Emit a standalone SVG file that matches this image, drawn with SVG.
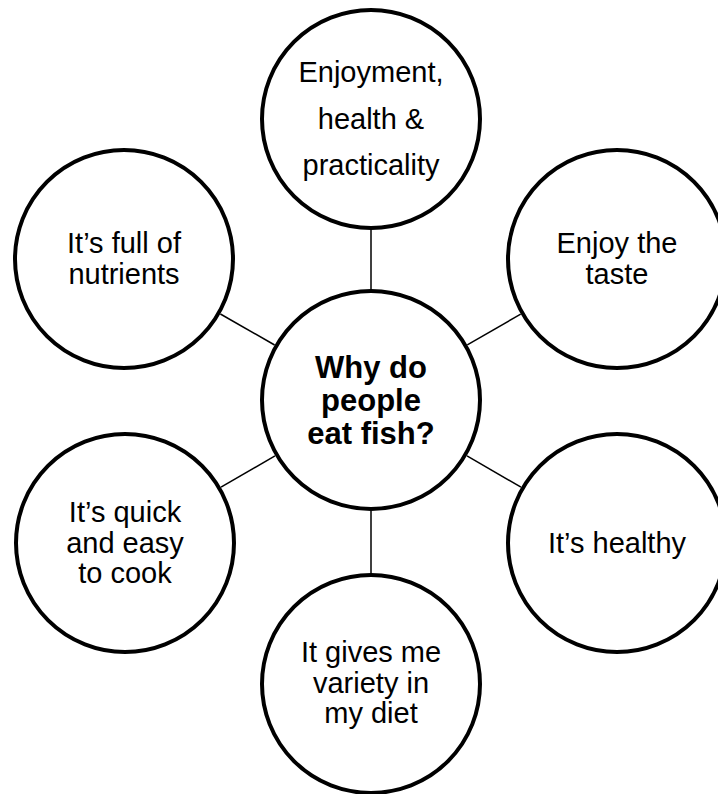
<svg xmlns="http://www.w3.org/2000/svg" width="718" height="794" viewBox="0 0 718 794">
<style>
.c{fill:#fff;stroke:#000;stroke-width:4}
.t{font-family:"Liberation Sans",Arial,sans-serif;font-size:29px;fill:#000;text-anchor:middle}
.b{font-family:"Liberation Sans",Arial,sans-serif;font-size:31px;font-weight:bold;fill:#000;text-anchor:middle}
.l{stroke:#000;stroke-width:1.5;fill:none}
</style>
<rect width="718" height="794" fill="#fff"/>
<g id="connectors">
<line class="l" x1="371" y1="230" x2="371" y2="289"/>
<line class="l" x1="371" y1="511" x2="371" y2="573"/>
<line class="l" x1="220.4" y1="314" x2="274.6" y2="345"/>
<line class="l" x1="520.7" y1="314.2" x2="467.3" y2="344.8"/>
<line class="l" x1="221" y1="487.2" x2="275" y2="455.8"/>
<line class="l" x1="521" y1="487.2" x2="467" y2="455.8"/>
</g>
<g id="center">
<circle class="c" cx="371" cy="400" r="109"/>
<text class="b" x="371" y="378">Why do</text>
<text class="b" x="371" y="411">people</text>
<text class="b" x="371" y="444">eat fish?</text>
</g>
<g id="top">
<circle class="c" cx="371" cy="119" r="109"/>
<text class="t" x="371" y="82">Enjoyment,</text>
<text class="t" x="371" y="128.5">health &amp;</text>
<text class="t" x="371" y="175">practicality</text>
</g>
<g id="topright">
<circle class="c" cx="617" cy="259" r="109"/>
<text class="t" x="617" y="253">Enjoy the</text>
<text class="t" x="617" y="284">taste</text>
</g>
<g id="topleft">
<circle class="c" cx="124" cy="259" r="109"/>
<text class="t" x="124" y="253">It’s full of</text>
<text class="t" x="124" y="284">nutrients</text>
</g>
<g id="bottomright">
<circle class="c" cx="617" cy="543" r="109"/>
<text class="t" x="617" y="553">It’s healthy</text>
</g>
<g id="bottomleft">
<circle class="c" cx="125" cy="543" r="109"/>
<text class="t" x="125" y="522">It’s quick</text>
<text class="t" x="125" y="552.5">and easy</text>
<text class="t" x="125" y="583">to cook</text>
</g>
<g id="bottom">
<circle class="c" cx="371" cy="684" r="109"/>
<text class="t" x="371" y="662">It gives me</text>
<text class="t" x="371" y="692.5">variety in</text>
<text class="t" x="371" y="723">my diet</text>
</g>
</svg>
